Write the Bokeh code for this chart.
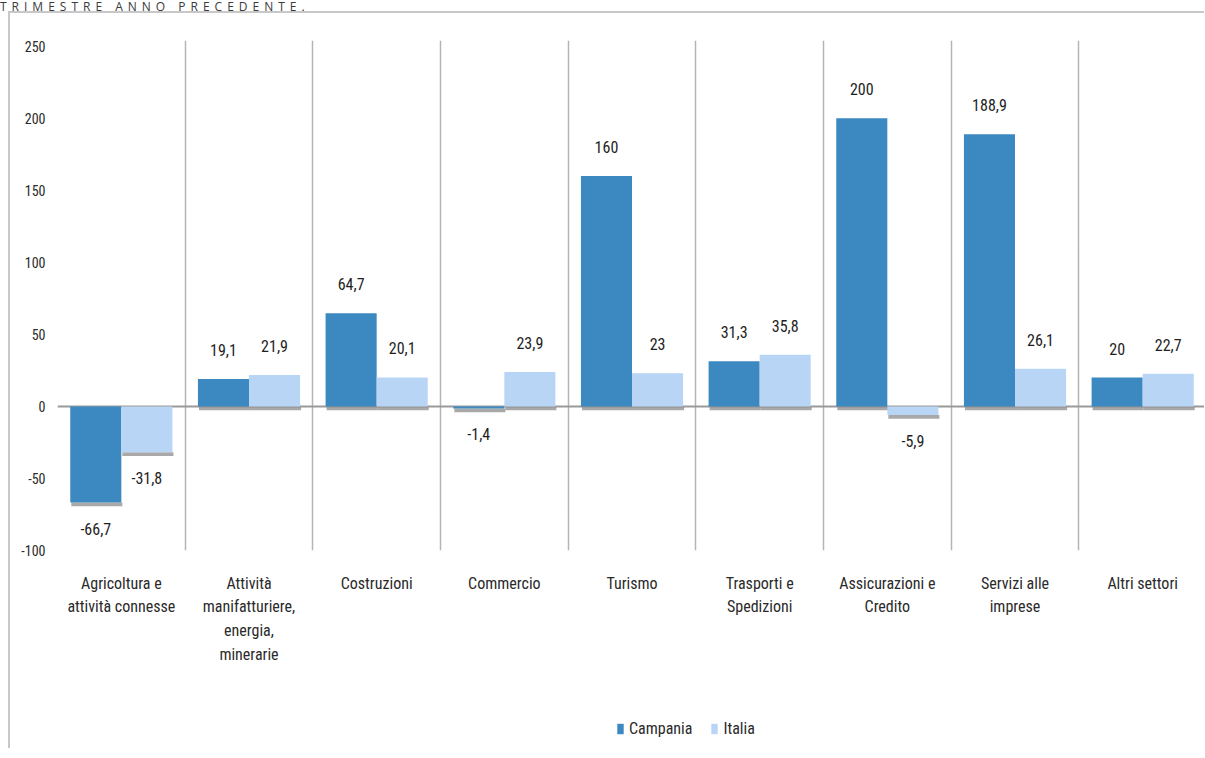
from bokeh.plotting import figure
from bokeh.models import (Range1d, FixedTicker, Span, Legend, LegendItem,
                          ColumnDataSource, Div)
from bokeh.layouts import column
from bokeh.core.properties import value
from bokeh.embed import file_html
from bokeh.resources import INLINE

# ---------------- data ----------------
title_text = "TRIMESTRE ANNO PRECEDENTE."
categories = [
    "Agricoltura e\nattività connesse",
    "Attività\nmanifatturiere,\nenergia,\nminerarie",
    "Costruzioni",
    "Commercio",
    "Turismo",
    "Trasporti e\nSpedizioni",
    "Assicurazioni e\nCredito",
    "Servizi alle\nimprese",
    "Altri settori",
]
series_names = ["Campania", "Italia"]
campania = [-66.7, 19.1, 64.7, -1.4, 160, 31.3, 200, 188.9, 20]
italia = [-31.8, 21.9, 20.1, 23.9, 23, 35.8, -5.9, 26.1, 22.7]
y_ticks = [-100, -50, 0, 50, 100, 150, 200, 250]

# ---------------- styles ----------------
FONT = "'Liberation Sans Narrow', 'Roboto Condensed', Roboto, sans-serif"
C_CAMP = "#3b89c0"
C_ITA = "#b9d5f5"
SHADOW = "#8c8c8c"
BAR_W = 0.4
OFFSETS = [0.3, 0.7]
SHADOW_H = 2.6
BORDER = "2px solid #c8c8c8"


def fmt(v):
    if float(v).is_integer():
        return str(int(v))
    return ("%.1f" % v).replace(".", ",")


n = len(categories)
p = figure(frame_width=1147, frame_height=508,
           x_range=Range1d(0, 9.0), y_range=Range1d(-100, 254),
           output_backend="svg", toolbar_location=None,
           min_border_left=47, min_border_right=0,
           min_border_top=27, min_border_bottom=152)
p.margin = (0, 0, 0, 8)
p.outline_line_color = None
p.background_fill_color = "white"
p.border_fill_color = "white"
p.styles = {"border-top": BORDER, "border-left": BORDER}

# grid: vertical separators between categories
p.ygrid.visible = False
p.xgrid.ticker = FixedTicker(ticks=list(range(n + 1)))
p.xgrid.grid_line_color = "#b4b4b4"
p.xgrid.grid_line_width = 1.5

# zero line
p.add_layout(Span(location=0, dimension="width", line_color="#9a9a9a",
                  line_width=2, level="underlay"))

series = list(zip(series_names, [campania, italia], OFFSETS, [C_CAMP, C_ITA]))
for name, vals, off, col in series:
    xs = [i + off for i in range(n)]
    bottoms = [min(v, 0) for v in vals]
    tops = [max(v, 0) for v in vals]
    sh = ColumnDataSource(dict(x=[x + 0.008 for x in xs],
                               top=bottoms,
                               bottom=[b - SHADOW_H for b in bottoms]))
    p.vbar(x="x", top="top", bottom="bottom", width=BAR_W, source=sh,
           fill_color=SHADOW, fill_alpha=0.75, line_color=None)
    src = ColumnDataSource(dict(x=xs, top=tops, bottom=bottoms))
    p.vbar(x="x", top="top", bottom="bottom", width=BAR_W, source=src,
           fill_color=col, line_color=None)
    lab = ColumnDataSource(dict(x=xs, y=vals, text=[fmt(v) for v in vals],
                                yo=[-29 if v >= 0 else 26 for v in vals]))
    p.text(x="x", y="y", text="text", y_offset="yo", source=lab,
           text_align="center", text_baseline="middle",
           text_font=value(FONT), text_font_size="16px", text_color="#1e1e1e")

# axes
p.yaxis.ticker = FixedTicker(ticks=y_ticks)
p.yaxis.major_label_overrides = {t: str(t) for t in y_ticks}
p.yaxis.axis_line_color = None
p.yaxis.major_tick_line_color = None
p.yaxis.minor_tick_line_color = None
p.yaxis.major_label_text_font = FONT
p.yaxis.major_label_text_font_size = "14px"
p.yaxis.major_label_text_color = "#2a2a2a"
p.yaxis.major_label_standoff = 6

centers = [i + 0.5 for i in range(n)]
p.xaxis.ticker = FixedTicker(ticks=centers)
p.xaxis.major_label_overrides = {c: cat for c, cat in zip(centers, categories)}
p.xaxis.axis_line_color = None
p.xaxis.major_tick_line_color = None
p.xaxis.minor_tick_line_color = None
p.xaxis.major_label_text_font = FONT
p.xaxis.major_label_text_font_size = "16px"
p.xaxis.major_label_text_color = "#2a2a2a"
p.xaxis.major_label_text_line_height = 1.26
p.xaxis.major_label_standoff = 17

# ---------------- legend strip (same series, out of view; only the legend shows) ----------------
lf = figure(width=1194, height=48, x_range=Range1d(0, 9.0), y_range=Range1d(1000, 1001),
            output_backend="svg", toolbar_location=None, min_border=0,
            x_axis_location=None, y_axis_location=None)
lf.margin = (0, 0, 0, 8)
lf.styles = {"border-left": BORDER}
lf.outline_line_color = None
lf.grid.visible = False
leg_r = []
for name, vals, off, col in series:
    leg_r.append(lf.vbar(x=[i + off for i in range(n)], top=vals, width=BAR_W,
                         fill_color=col, line_color=None))
legend = Legend(items=[LegendItem(label=nm, renderers=[r])
                       for nm, r in zip(series_names, leg_r)],
                location=(559, 10), orientation="horizontal",
                border_line_color=None, background_fill_alpha=0,
                padding=0, margin=0, spacing=18,
                glyph_width=8, glyph_height=13, label_standoff=5,
                label_text_font=FONT, label_text_font_size="16px",
                label_text_color="#2a2a2a")
lf.add_layout(legend)

title = Div(text=('<div style="position:relative; top:-1px; left:0px; '
                  "font-family:'Open Sans', sans-serif; font-size:12px; line-height:11px; "
                  'letter-spacing:5px; color:#3a3a3a; white-space:nowrap;">'
                  + title_text + '</div>'),
            width=600, height=11, margin=(0, 0, 0, 0),
            styles={"overflow": "visible"})

layout = column(title, p, lf, spacing=0)
open("out.html", "w").write(file_html(layout, INLINE))
